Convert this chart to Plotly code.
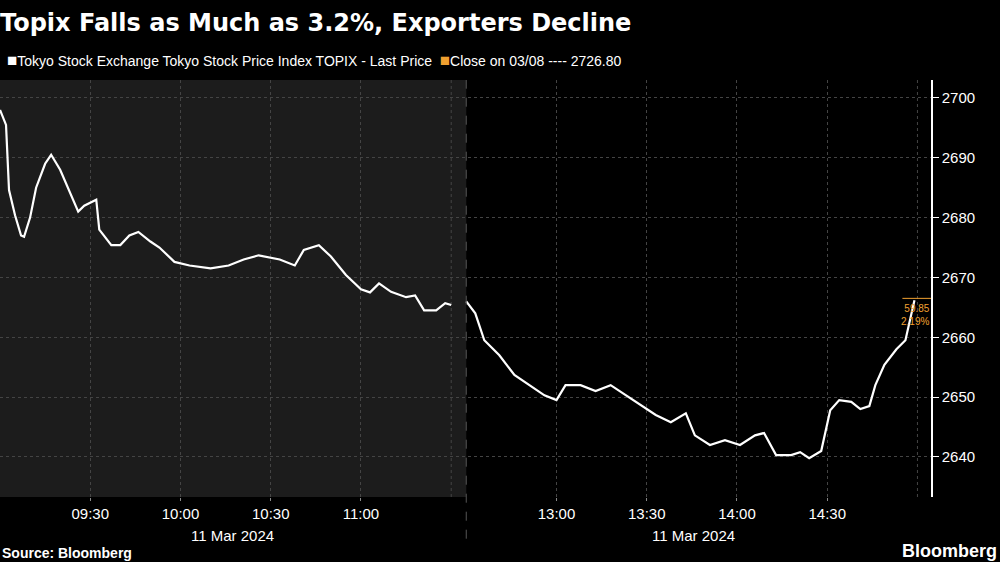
import plotly.graph_objects as go

am_min = [0,2,3,5,7,8,10,12,15,17,20,23,26,28,32,33,37,40,43,46,50,53,58,63,70,76,81,86,93,98,101,106,110,115,120,123,126,130,135,138,141,145,148,150]
am_val = [2698,2695.5,2684.6,2680.4,2677,2676.8,2680,2685,2689,2690.5,2688,2684.6,2681,2682,2683,2678,2675.4,2675.4,2677,2677.6,2676,2675,2672.6,2672,2671.5,2672,2673,2673.7,2673,2672,2674.6,2675.4,2673.5,2670.4,2668,2667.5,2669,2667.6,2666.7,2667,2664.5,2664.5,2665.7,2665.4]
pm_min = [0,3,6,11,16,21,26,30,33,38,43,48,53,58,63,68,73,76,81,86,91,96,99,103,108,111,114,118,121,124,128,131,134,136,139,143,146,149]
pm_val = [2666,2664,2659.5,2657,2653.7,2652,2650.3,2649.5,2652,2652,2651,2652,2650.3,2648.7,2647,2645.8,2647.3,2643.6,2642,2642.8,2642,2643.6,2644,2640.3,2640.3,2640.8,2639.8,2641,2647.8,2649.5,2649.2,2648,2648.5,2652,2655.4,2658,2659.5,2666.2]
tick_pos = [30,60,90,120,185,215,245,275]
tick_text = ["09:30","10:00","10:30","11:00","13:00","13:30","14:00","14:30"]
y_ticks = [2640,2650,2660,2670,2680,2690,2700]
PM_OFFSET = 155

xs = am_min + [None] + [m + PM_OFFSET for m in pm_min]
ys = am_val + [None] + pm_val

fig = go.Figure()
fig.add_trace(go.Scatter(x=xs, y=ys, mode="lines", line=dict(color="white", width=2.2),
                         connectgaps=False, hoverinfo="skip"))
fig.add_shape(type="rect", xref="x", yref="paper", x0=0, x1=PM_OFFSET, y0=0, y1=1,
              fillcolor="#1c1c1c", line_width=0, layer="below")
fig.add_shape(type="line", xref="x", yref="paper", x0=PM_OFFSET, x1=PM_OFFSET, y0=-0.1, y1=1,
              line=dict(color="#555", width=1, dash="dash"))
for g in [150, 305]:
    fig.add_shape(type="line", xref="x", yref="paper", x0=g, x1=g, y0=0, y1=1,
                  line=dict(color="#444", width=1, dash="dot"), layer="below")

fig.add_annotation(xref="paper", yref="y", x=1.001, y=pm_val[-1] - 0.1, xanchor="right", yanchor="top",
                   text="59.85<br>2.19%", showarrow=False, align="right",
                   font=dict(color="#f0a030", size=10, family="Liberation Sans"))
fig.add_shape(type="line", xref="x", yref="y", x0=300, x1=309.5, y0=pm_val[-1]+0.3, y1=pm_val[-1]+0.3,
              line=dict(color="#f0a030", width=1))

fig.update_layout(
    width=1000, height=562, paper_bgcolor="black", plot_bgcolor="black",
    margin=dict(l=0, r=69, t=80, b=65), showlegend=False,
    font=dict(family="Liberation Sans", color="white", size=15),
    xaxis=dict(range=[0, 309.5], tickvals=tick_pos, ticktext=tick_text, showgrid=True,
               gridcolor="#444", griddash="dot", zeroline=False, ticks="outside",
               ticklen=3, tickcolor="#888", tickfont=dict(size=15, color="white"), showline=False),
    yaxis=dict(range=[2633.3, 2703], side="right", tickvals=y_ticks, showgrid=True,
               gridcolor="#444", griddash="dot", zeroline=False, ticks="outside", ticklen=6,
               tickcolor="white", showline=True, linecolor="white", linewidth=1.5,
               tickfont=dict(size=15, color="white")),
)
fig.add_annotation(xref="paper", yref="paper", x=-0.002, y=1.175, xanchor="left", yanchor="top",
                   text="<b>Topix Falls as Much as 3.2%, Exporters Decline</b>", showarrow=False,
                   font=dict(size=24, color="white", family="DejaVu Sans"))
fig.add_annotation(xref="paper", yref="paper", x=0.005, y=1.075, xanchor="left", yanchor="top",
                   text="<span style='font-size:17px'>■</span>Tokyo Stock Exchange Tokyo Stock Price Index TOPIX - Last Price  "
                        "<span style='color:#f0a030;font-size:17px'>■</span>Close on 03/08 ---- 2726.80",
                   showarrow=False, font=dict(size=14, color="white"))
for xp in [0.25, 0.745]:
    fig.add_annotation(xref="paper", yref="paper", x=xp, y=-0.068, xanchor="center", yanchor="top",
                       text="11 Mar 2024", showarrow=False, font=dict(size=15, color="white"))
fig.add_annotation(xref="paper", yref="paper", x=0.0, y=-0.11, xanchor="left", yanchor="top",
                   text="<b>Source: Bloomberg</b>", showarrow=False, font=dict(size=14, color="white"))
fig.add_annotation(xref="paper", yref="paper", x=1.073, y=-0.1, xanchor="right", yanchor="top",
                   text="<b>Bloomberg</b>", showarrow=False, font=dict(size=18, color="white"))
fig.write_html("out.html", config={"displayModeBar": False},
               post_script="document.body.style.margin='0';document.body.style.background='black';")
